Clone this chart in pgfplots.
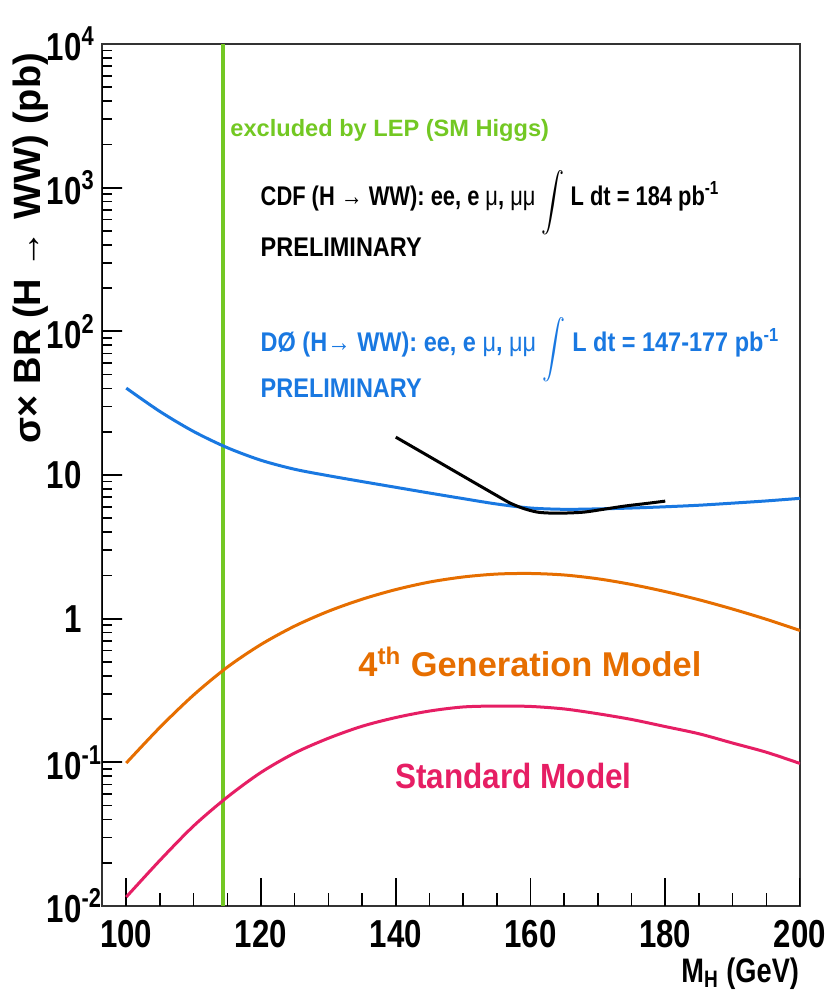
\documentclass[border=0pt]{standalone}
\usepackage{fontspec}
\setmainfont{Liberation Sans}[FakeStretch=0.8]
\newfontfamily\fwide{Liberation Sans}
\newfontfamily\fnine{Liberation Sans}[FakeStretch=0.9]
\newfontfamily\fdz{Liberation Sans}[FakeStretch=0.87]
\newfontfamily\fpre{Liberation Sans}[FakeStretch=0.87]
\newfontfamily\fcdf{Liberation Sans}[FakeStretch=0.81]
\usepackage{graphicx}
\usepackage{pgfplots}
\pgfplotsset{compat=1.18}
\definecolor{lepgreen}{RGB}{115,200,35}
\definecolor{dzblue}{RGB}{25,120,225}
\definecolor{genorange}{RGB}{230,110,0}
\definecolor{smpink}{RGB}{230,30,100}
\newcommand{\bigint}{\raisebox{-0.6ex}{\scalebox{1.15}[1.45]{$\displaystyle\int$}}}
\begin{document}
\begin{tikzpicture}
\path (-51pt,-46.5pt) rectangle (364pt,453pt);
\begin{axis}[
  at={(0,0)}, anchor=south west,
  scale only axis, width=349pt, height=431pt,
  xmin=96.4, xmax=200,
  ymode=log, ymin=0.01, ymax=10000,
  unbounded coords=jump,
  xtick={100,120,140,160,180,200},
  minor x tick num=3,
  ytick={0.01,0.1,1,10,100,1000,10000},
  yticklabels={{10\rlap{\textsuperscript{-2}}},{10\rlap{\textsuperscript{-1}}},{1},{10},{10\rlap{\textsuperscript{2}}},{10\rlap{\textsuperscript{3}}},{10\rlap{\textsuperscript{4}}}},
  xticklabels={100,120,140,160,180,200},
  xtick pos=bottom, ytick pos=left,
  tick align=inside,
  major tick length=0pt, minor tick length=0pt,
  axis line style={black!80, line width=1pt},
  every tick label/.append style={font=\bfseries\fontsize{19.5}{20}\selectfont},
  yticklabel style={anchor=east, inner sep=0pt, xshift=-10pt},
  xticklabel style={anchor=north, inner sep=0pt, yshift=-7pt},
  xlabel={M\textsubscript{H} (GeV)},
  xlabel style={at={(axis description cs:0.9991,0)}, anchor=east, yshift=-34pt, inner sep=0pt, font=\bfseries\fontsize{17}{18}\selectfont},
  ylabel={σ× BR (H → WW) (pb)},
  ylabel style={at={(axis description cs:-0.1017,0.99)}, anchor=east, inner sep=0pt, font=\fwide\bfseries\fontsize{19}{20}\selectfont},
]
% tick marks on the bottom axis
\addplot[black, line width=0.9pt, forget plot] coordinates {
(100,0.01) (100,0.01566) (100,nan) (120,0.01) (120,0.01566) (120,nan)
(140,0.01) (140,0.01566) (140,nan) (160,0.01) (160,0.01566) (160,nan)
(180,0.01) (180,0.01566) (180,nan) (200,0.01) (200,0.01566) (200,nan)};
\addplot[black, line width=0.8pt, forget plot] coordinates {
(105,0.01) (105,0.01232) (105,nan) (110,0.01) (110,0.01232) (110,nan)
(115,0.01) (115,0.01232) (115,nan) (125,0.01) (125,0.01232) (125,nan)
(130,0.01) (130,0.01232) (130,nan) (135,0.01) (135,0.01232) (135,nan)
(145,0.01) (145,0.01232) (145,nan) (150,0.01) (150,0.01232) (150,nan)
(155,0.01) (155,0.01232) (155,nan) (165,0.01) (165,0.01232) (165,nan)
(170,0.01) (170,0.01232) (170,nan) (175,0.01) (175,0.01232) (175,nan)
(185,0.01) (185,0.01232) (185,nan) (190,0.01) (190,0.01232) (190,nan)
(195,0.01) (195,0.01232) (195,nan)};
% tick marks on the left axis (out and back along the axis line)
\addplot[black, line width=0.9pt, forget plot] coordinates {
(96.45,0.1) (99.37,0.1) (96.45,0.1) (96.45,1) (99.37,1) (96.45,1)
(96.45,10) (99.37,10) (96.45,10) (96.45,100) (99.37,100) (96.45,100)
(96.45,1000) (99.37,1000) (96.45,1000)};
\addplot[black, line width=0.8pt, forget plot] coordinates {
(96.45,0.02) (97.88,0.02) (96.45,0.02) (96.45,0.03) (97.88,0.03) (96.45,0.03)
(96.45,0.04) (97.88,0.04) (96.45,0.04) (96.45,0.05) (97.88,0.05) (96.45,0.05)
(96.45,0.06) (97.88,0.06) (96.45,0.06) (96.45,0.07) (97.88,0.07) (96.45,0.07)
(96.45,0.08) (97.88,0.08) (96.45,0.08) (96.45,0.09) (97.88,0.09) (96.45,0.09)
(96.45,0.2) (97.88,0.2) (96.45,0.2) (96.45,0.3) (97.88,0.3) (96.45,0.3)
(96.45,0.4) (97.88,0.4) (96.45,0.4) (96.45,0.5) (97.88,0.5) (96.45,0.5)
(96.45,0.6) (97.88,0.6) (96.45,0.6) (96.45,0.7) (97.88,0.7) (96.45,0.7)
(96.45,0.8) (97.88,0.8) (96.45,0.8) (96.45,0.9) (97.88,0.9) (96.45,0.9)
(96.45,2) (97.88,2) (96.45,2) (96.45,3) (97.88,3) (96.45,3)
(96.45,4) (97.88,4) (96.45,4) (96.45,5) (97.88,5) (96.45,5)
(96.45,6) (97.88,6) (96.45,6) (96.45,7) (97.88,7) (96.45,7)
(96.45,8) (97.88,8) (96.45,8) (96.45,9) (97.88,9) (96.45,9)
(96.45,20) (97.88,20) (96.45,20) (96.45,30) (97.88,30) (96.45,30)
(96.45,40) (97.88,40) (96.45,40) (96.45,50) (97.88,50) (96.45,50)
(96.45,60) (97.88,60) (96.45,60) (96.45,70) (97.88,70) (96.45,70)
(96.45,80) (97.88,80) (96.45,80) (96.45,90) (97.88,90) (96.45,90)
(96.45,200) (97.88,200) (96.45,200) (96.45,300) (97.88,300) (96.45,300)
(96.45,400) (97.88,400) (96.45,400) (96.45,500) (97.88,500) (96.45,500)
(96.45,600) (97.88,600) (96.45,600) (96.45,700) (97.88,700) (96.45,700)
(96.45,800) (97.88,800) (96.45,800) (96.45,900) (97.88,900) (96.45,900)
(96.45,2000) (97.88,2000) (96.45,2000) (96.45,3000) (97.88,3000) (96.45,3000)
(96.45,4000) (97.88,4000) (96.45,4000) (96.45,5000) (97.88,5000) (96.45,5000)
(96.45,6000) (97.88,6000) (96.45,6000) (96.45,7000) (97.88,7000) (96.45,7000)
(96.45,8000) (97.88,8000) (96.45,8000) (96.45,9000) (97.88,9000) (96.45,9000)};
% LEP exclusion line
\addplot[lepgreen, line width=2pt] coordinates {(114.4,0.01) (114.4,10000)};
% Standard Model
\addplot[smpink, line width=1.5pt, smooth] coordinates {
(100,0.01155) (105,0.0208) (110,0.0361) (115,0.0573) (120,0.0851) (125,0.1161)
(130,0.1471) (135,0.1783) (140,0.2050) (145,0.2275) (150,0.2429) (155,0.2465)
(160,0.2449) (165,0.2353) (170,0.2179) (175,0.1988) (180,0.1774) (185,0.1581)
(190,0.1362) (195,0.1176) (200,0.0982)};
% 4th generation
\addplot[genorange, line width=1.5pt, smooth] coordinates {
(100,0.0989) (105,0.1752) (110,0.2944) (115,0.4597) (120,0.6613) (125,0.8881)
(130,1.126) (135,1.365) (140,1.594) (145,1.798) (150,1.951) (155,2.044)
(160,2.063) (165,2.014) (170,1.895) (175,1.730) (180,1.544) (185,1.354)
(190,1.166) (195,0.990) (200,0.828)};
% D0
\addplot[dzblue, line width=1.5pt, smooth] coordinates {
(100,40.26) (105,27.67) (110,20.08) (115,15.49) (120,12.66) (125,10.96)
(130,9.89) (135,9.00) (140,8.21) (145,7.49) (150,6.85) (155,6.28)
(160,5.89) (165,5.77) (170,5.81) (175,5.89) (180,6.01) (185,6.16)
(190,6.37) (195,6.60) (200,6.88)};
% CDF
\addplot[black, line width=1.5pt, smooth] coordinates {
(140,18.35) (145,13.43) (150,9.82) (155,7.19) (157,6.37) (159,5.84)
(161,5.52) (163,5.43) (165,5.43) (168,5.52) (171,5.79) (174,6.08)
(177,6.32) (180,6.58)};

\node[anchor=west, text=lepgreen, inner sep=0pt, font=\fwide\bfseries\fontsize{11.8}{14}\selectfont] at (axis cs:115.4,2512) {excluded by LEP (SM Higgs)};
\node[anchor=west, text=black, inner sep=0pt, font=\fcdf\bfseries\fontsize{13.5}{15}\selectfont] at (axis cs:119.9,780) {CDF (H → WW): ee, e {\mdseries μ}, {\mdseries μμ} \bigint{} L dt = 184 pb\textsuperscript{-1}};
\node[anchor=west, text=black, inner sep=0pt, font=\fpre\bfseries\fontsize{13.5}{15}\selectfont] at (axis cs:119.9,385) {PRELIMINARY};
\node[anchor=west, text=dzblue, inner sep=0pt, font=\fdz\bfseries\fontsize{13.5}{15}\selectfont] at (axis cs:119.9,74) {DØ (H→ WW): ee, e {\mdseries μ}, {\mdseries μμ} \bigint{} L dt = 147-177 pb\textsuperscript{-1}};
\node[anchor=west, text=dzblue, inner sep=0pt, font=\fpre\bfseries\fontsize{13.5}{15}\selectfont] at (axis cs:119.9,40.3) {PRELIMINARY};
\node[anchor=west, text=genorange, inner sep=0pt, font=\fwide\bfseries\fontsize{17.2}{19}\selectfont] at (axis cs:134.4,0.50) {4\textsuperscript{th} Generation Model};
\node[anchor=west, text=smpink, inner sep=0pt, font=\fnine\bfseries\fontsize{17.5}{19}\selectfont] at (axis cs:139.9,0.080) {Standard Model};
\end{axis}
\end{tikzpicture}
\end{document}
